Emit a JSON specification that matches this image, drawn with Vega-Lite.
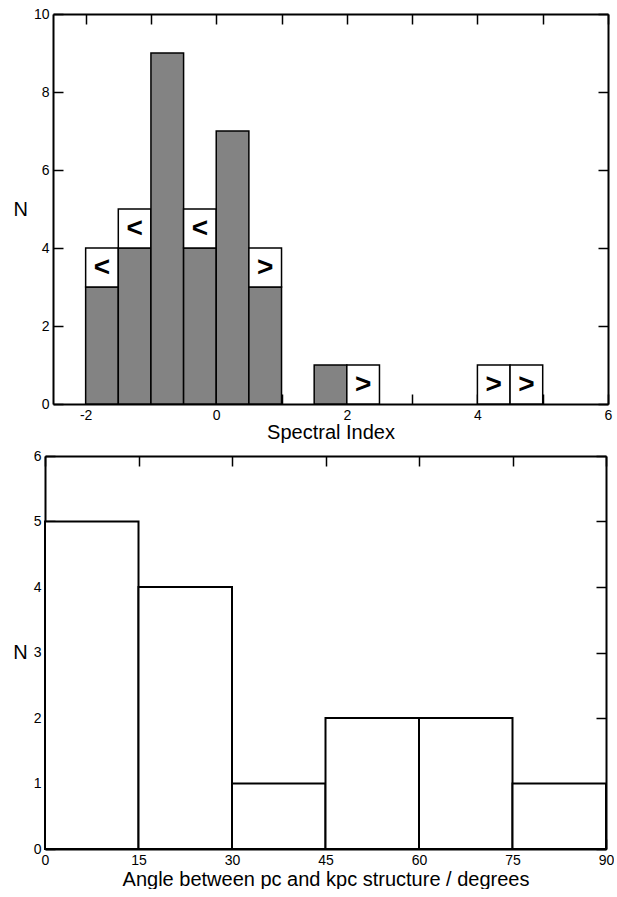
{
  "$schema": "https://vega.github.io/schema/vega-lite/v6.json",
  "background": "white",
  "padding": {"left": 5, "top": 7, "right": 0, "bottom": 0},
  "columns": 2,
  "align": "none",
  "spacing": {"row": 7, "column": 0},
  "config": {
    "font": "Liberation Sans",
    "view": {"stroke": null},
    "axis": {
      "grid": false,
      "zindex": 1,
      "domainColor": "black",
      "domainWidth": 2,
      "tickColor": "black",
      "tickWidth": 1.5,
      "tickSize": -10,
      "labelPadding": 14,
      "labelColor": "black",
      "labelFont": "Liberation Sans",
      "labelFontSize": 14,
      "labelFlush": false,
      "labelOverlap": false,
      "titleColor": "black",
      "titleFont": "Liberation Sans",
      "titleFontSize": 20,
      "titleFontWeight": "normal"
    }
  },
  "concat": [
    {
      "width": 1,
      "height": 1,
      "data": {"values": [{}]},
      "mark": {"type": "point", "opacity": 0}
    },
    {
      "width": 555,
      "height": 390,
      "data": {
        "values": [
          {"lo": -2.0, "hi": -1.5, "type": "detection", "n": 3, "sym": ""},
          {"lo": -2.0, "hi": -1.5, "type": "limit", "n": 1, "sym": "<"},
          {"lo": -1.5, "hi": -1.0, "type": "detection", "n": 4, "sym": ""},
          {"lo": -1.5, "hi": -1.0, "type": "limit", "n": 1, "sym": "<"},
          {"lo": -1.0, "hi": -0.5, "type": "detection", "n": 9, "sym": ""},
          {"lo": -0.5, "hi": 0.0, "type": "detection", "n": 4, "sym": ""},
          {"lo": -0.5, "hi": 0.0, "type": "limit", "n": 1, "sym": "<"},
          {"lo": 0.0, "hi": 0.5, "type": "detection", "n": 7, "sym": ""},
          {"lo": 0.5, "hi": 1.0, "type": "detection", "n": 3, "sym": ""},
          {"lo": 0.5, "hi": 1.0, "type": "limit", "n": 1, "sym": ">"},
          {"lo": 1.5, "hi": 2.0, "type": "detection", "n": 1, "sym": ""},
          {"lo": 2.0, "hi": 2.5, "type": "limit", "n": 1, "sym": ">"},
          {"lo": 4.0, "hi": 4.5, "type": "limit", "n": 1, "sym": ">"},
          {"lo": 4.5, "hi": 5.0, "type": "limit", "n": 1, "sym": ">"}
        ]
      },
      "transform": [
        {"stack": "n", "groupby": ["lo"], "sort": [{"field": "type"}], "as": ["n0", "n1"]}
      ],
      "resolve": {"axis": {"x": "independent", "y": "independent"}},
      "layer": [
        {
          "mark": {"type": "bar", "stroke": "black", "strokeWidth": 1.5},
          "encoding": {
            "x": {
              "field": "lo", "type": "quantitative",
              "scale": {"domain": [-2.5, 6], "nice": false, "zero": false},
              "axis": {
                "orient": "bottom",
                "values": [-2, -1, 0, 1, 2, 3, 4, 5, 6],
                "labelExpr": "datum.value % 2 === 0 ? '' + datum.value : ''",
                "title": "Spectral Index",
                "titlePadding": 0
              }
            },
            "x2": {"field": "hi"},
            "y": {
              "field": "n0", "type": "quantitative",
              "scale": {"domain": [0, 10], "nice": false},
              "axis": {
                "orient": "left",
                "values": [0, 2, 4, 6, 8, 10],
                "title": "N",
                "titleAngle": 0,
                "titleAlign": "right",
                "titleBaseline": "middle",
                "titlePadding": 6
              }
            },
            "y2": {"field": "n1"},
            "fill": {
              "field": "type", "type": "nominal",
              "scale": {"domain": ["detection", "limit"], "range": ["#838383", "white"]},
              "legend": null
            }
          }
        },
        {
          "transform": [
            {"filter": "datum.type === 'limit'"},
            {"fold": ["lo", "hi"], "as": ["edge", "xv"]},
            {"fold": ["n0", "n1"], "as": ["level", "yv"]},
            {
              "aggregate": [
                {"op": "mean", "field": "xv", "as": "xc"},
                {"op": "mean", "field": "yv", "as": "yc"}
              ],
              "groupby": ["lo", "sym"]
            }
          ],
          "mark": {"type": "text", "fontWeight": "bold", "fontSize": 28, "font": "Liberation Sans", "color": "black", "baseline": "middle", "align": "center"},
          "encoding": {
            "x": {
              "field": "xc", "type": "quantitative",
              "axis": {
                "orient": "top",
                "values": [-2, -1, 0, 1, 2, 3, 4, 5, 6],
                "labels": false,
                "title": null
              }
            },
            "y": {
              "field": "yc", "type": "quantitative",
              "axis": {
                "orient": "right",
                "values": [0, 2, 4, 6, 8, 10],
                "labels": false,
                "title": null
              }
            },
            "text": {"field": "sym"}
          }
        }
      ]
    },
    {
      "width": 1,
      "height": 1,
      "data": {"values": [{}]},
      "mark": {"type": "point", "opacity": 0}
    },
    {
      "width": 561,
      "height": 393,
      "data": {
        "values": [
          {"lo": 0, "hi": 15, "n": 5},
          {"lo": 15, "hi": 30, "n": 4},
          {"lo": 30, "hi": 45, "n": 1},
          {"lo": 45, "hi": 60, "n": 2},
          {"lo": 60, "hi": 75, "n": 2},
          {"lo": 75, "hi": 90, "n": 1}
        ]
      },
      "resolve": {"axis": {"x": "independent", "y": "independent"}},
      "layer": [
        {
          "mark": {"type": "bar", "fill": "white", "stroke": "black", "strokeWidth": 2},
          "encoding": {
            "x": {
              "field": "lo", "type": "quantitative",
              "scale": {"domain": [0, 90], "nice": false, "zero": false},
              "axis": {
                "orient": "bottom",
                "values": [0, 15, 30, 45, 60, 75, 90],
                "title": "Angle between pc and kpc structure / degrees",
                "titlePadding": 2
              }
            },
            "x2": {"field": "hi"},
            "y": {
              "field": "n", "type": "quantitative",
              "scale": {"domain": [0, 6], "nice": false},
              "axis": {
                "orient": "left",
                "values": [0, 1, 2, 3, 4, 5, 6],
                "title": "N",
                "titleAngle": 0,
                "titleAlign": "right",
                "titleBaseline": "middle",
                "titlePadding": 6
              }
            },
            "y2": {"datum": 0}
          }
        },
        {
          "mark": {"type": "bar", "fillOpacity": 0, "strokeOpacity": 0},
          "encoding": {
            "x": {
              "field": "lo", "type": "quantitative",
              "axis": {"orient": "top", "values": [0, 15, 30, 45, 60, 75, 90], "labels": false, "title": null}
            },
            "x2": {"field": "hi"},
            "y": {
              "field": "n", "type": "quantitative",
              "axis": {"orient": "right", "values": [0, 1, 2, 3, 4, 5, 6], "labels": false, "title": null}
            },
            "y2": {"datum": 0}
          }
        }
      ]
    }
  ]
}
